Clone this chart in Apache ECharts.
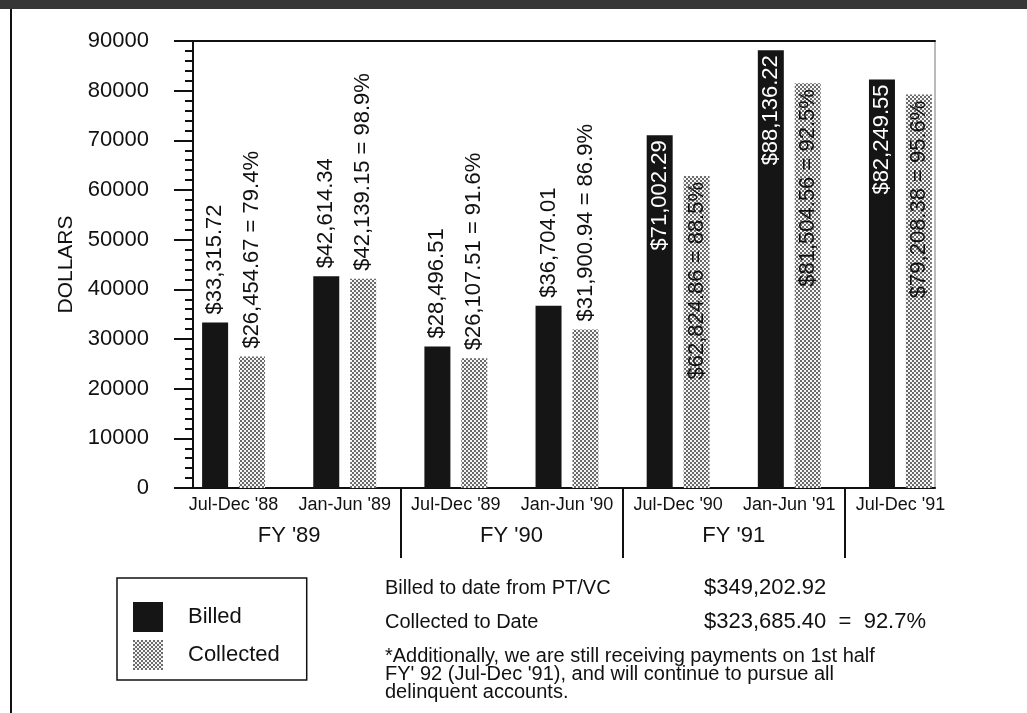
<!DOCTYPE html>
<html>
<head>
<meta charset="utf-8">
<script src="https://cdn.jsdelivr.net/npm/echarts@6/dist/echarts.min.js"></script>
<style>
  html, body { margin: 0; padding: 0; background: #fff; }
  #chart { width: 1027px; height: 713px; }
</style>
</head>
<body>
<div id="chart"></div>
<script>
// Half-year billing periods and amounts (dollars)
const categories = ["Jul-Dec '88", "Jan-Jun '89", "Jul-Dec '89", "Jan-Jun '90", "Jul-Dec '90", "Jan-Jun '91", "Jul-Dec '91"];
const billed = [33315.72, 42614.34, 28496.51, 36704.01, 71002.29, 88136.22, 82249.55];
const collected = [26454.67, 42139.15, 26107.51, 31900.94, 62824.86, 81504.56, 79208.38];
const collectedPct = ['79.4', '98.9', '91.6', '86.9', '88.5', '92.5', '95.6'];

// Fiscal years and the half-year periods (first, last index) each one spans
const fiscalYears = ["FY '89", "FY '90", "FY '91"];
const fiscalGroups = [[0, 1], [2, 3], [4, 5]];

// Summary block under the chart
const summaryLabels = ['Billed to date from PT/VC', 'Collected to Date'];
const summaryValues = ['$349,202.92', '$323,685.40  =  92.7%'];
const footnoteLines = [
  '*Additionally, we are still receiving payments on 1st half',
  "FY' 92 (Jul-Dec '91), and will continue to pursue all",
  'delinquent accounts.'
];

const FONT = '"Liberation Sans", Arial, Helvetica, sans-serif';
const INK = '#111';

function money(v) {
  const parts = v.toFixed(2).split('.');
  return '$' + parts[0].replace(/\B(?=(\d{3})+(?!\d))/g, ',') + '.' + parts[1];
}

// Dot screen used for the "Collected" bars
function dotScreen() {
  const c = document.createElement('canvas');
  c.width = 4; c.height = 4;
  const g = c.getContext('2d');
  g.fillStyle = '#f6f6f6';
  g.fillRect(0, 0, 4, 4);
  g.fillStyle = '#6a6a6a';
  g.fillRect(0, 0, 2, 2);
  g.fillRect(2, 2, 2, 2);
  return c;
}
const dotFill = { image: dotScreen(), repeat: 'repeat' };

// Tall bars carry their label inside, short bars above the top
const TALL = 60000;
const labelBase = { show: true, rotate: 90, verticalAlign: 'middle', fontSize: 22, fontFamily: FONT };
const labelAbove = Object.assign({}, labelBase, { position: 'top', align: 'left', distance: 8, color: INK });
const billedInside = Object.assign({}, labelBase, { position: 'insideTop', align: 'right', distance: 5, color: '#fff' });
const collectedInside = Object.assign({}, labelBase, { position: 'insideTop', align: 'right', distance: 6, color: INK });

const chart = echarts.init(document.getElementById('chart'), null, { renderer: 'canvas' });

const axisLineStyle = { color: INK, width: 2 };

chart.setOption({
  animation: false,
  backgroundColor: '#fff',
  grid: [
    // framed plot area
    { left: 193, top: 41, right: 92, bottom: 225, show: true, borderColor: '#777', borderWidth: 1, backgroundColor: 'transparent' },
    // bar placement band
    { left: 178, top: 41, right: 71, bottom: 225 }
  ],
  xAxis: [
    { gridIndex: 0, type: 'value', min: 0, max: 1, position: 'bottom',
      axisLine: { show: true, onZero: false, lineStyle: axisLineStyle },
      axisTick: { show: false }, axisLabel: { show: false }, splitLine: { show: false } },
    { gridIndex: 0, type: 'value', min: 0, max: 1, position: 'top',
      axisLine: { show: true, onZero: false, lineStyle: axisLineStyle },
      axisTick: { show: false }, axisLabel: { show: false }, splitLine: { show: false } },
    { gridIndex: 1, type: 'category', data: categories, position: 'bottom',
      axisLine: { show: false, onZero: false }, axisTick: { show: false },
      axisLabel: { interval: 0, fontSize: 18, color: INK, margin: 8, fontFamily: FONT } },
    { gridIndex: 1, type: 'value', min: -0.5, max: categories.length - 0.5, position: 'bottom',
      axisLine: { show: false, onZero: false }, splitLine: { show: false },
      axisTick: { show: true, customValues: fiscalGroups.map(g => g[1] + 0.5), length: 70,
                  lineStyle: { color: INK, width: 2 } },
      axisLabel: { customValues: fiscalGroups.map(g => (g[0] + g[1]) / 2),
                   formatter: v => {
                     const k = fiscalGroups.findIndex(g => (g[0] + g[1]) / 2 === v);
                     return k >= 0 ? fiscalYears[k] : '';
                   },
                   fontSize: 22, color: INK, margin: 37, fontFamily: FONT } }
  ],
  yAxis: [
    { gridIndex: 0, type: 'value', min: 0, max: 90000, interval: 10000,
      axisLine: { show: true, onZero: false, lineStyle: axisLineStyle },
      axisTick: { show: true, length: 19, lineStyle: { color: INK, width: 2 } },
      minorTick: { show: true, splitNumber: 5, length: 8, lineStyle: { color: INK, width: 2 } },
      splitLine: { show: false }, minorSplitLine: { show: false },
      axisLabel: { fontSize: 22, color: INK, margin: 44, fontFamily: FONT, formatter: v => String(v) },
      name: 'DOLLARS', nameLocation: 'middle', nameGap: 113,
      nameTextStyle: { fontSize: 21, color: INK, fontFamily: FONT } },
    { gridIndex: 1, type: 'value', min: 0, max: 90000, show: false }
  ],
  legend: {
    data: ['Billed', 'Collected'],
    orient: 'vertical', left: 117, top: 578,
    icon: 'rect', itemWidth: 30, itemHeight: 30, itemGap: 8,
    padding: [24, 27, 10, 16],
    borderColor: INK, borderWidth: 1.5,
    selectedMode: false,
    textStyle: { fontSize: 22, color: INK, fontFamily: FONT, padding: [0, 0, 0, 20] }
  },
  series: [
    { type: 'bar', name: 'Billed', xAxisIndex: 2, yAxisIndex: 1,
      barWidth: 26, barGap: '42%',
      itemStyle: { color: '#151515' },
      label: { formatter: p => money(p.value) },
      data: billed.map(v => ({ value: v, label: v > TALL ? billedInside : labelAbove })) },
    { type: 'bar', name: 'Collected', xAxisIndex: 2, yAxisIndex: 1,
      barWidth: 26, barGap: '42%',
      itemStyle: { color: dotFill },
      label: { formatter: p => money(p.value) + ' = ' + collectedPct[p.dataIndex] + '%' },
      data: collected.map(v => ({ value: v, label: v > TALL ? collectedInside : labelAbove })) }
  ],
  graphic: [
    { type: 'rect', shape: { x: 0, y: 0, width: 1027, height: 9 }, style: { fill: '#363636' }, silent: true },
    { type: 'rect', shape: { x: 10, y: 9, width: 2, height: 704 }, style: { fill: INK }, silent: true },
    { type: 'text', x: 385, y: 588, style: { text: summaryLabels[0], fontSize: 20, fontFamily: FONT, fill: INK, verticalAlign: 'middle' } },
    { type: 'text', x: 704, y: 588, style: { text: summaryValues[0], fontSize: 22, fontFamily: FONT, fill: INK, verticalAlign: 'middle' } },
    { type: 'text', x: 385, y: 622, style: { text: summaryLabels[1], fontSize: 20, fontFamily: FONT, fill: INK, verticalAlign: 'middle' } },
    { type: 'text', x: 704, y: 622, style: { text: summaryValues[1], fontSize: 22, fontFamily: FONT, fill: INK, verticalAlign: 'middle' } },
    { type: 'text', x: 385, y: 647, style: { text: footnoteLines.join('\n'), fontSize: 20, lineHeight: 18, fontFamily: FONT, fill: INK, verticalAlign: 'top' } }
  ]
});
</script>
</body>
</html>
